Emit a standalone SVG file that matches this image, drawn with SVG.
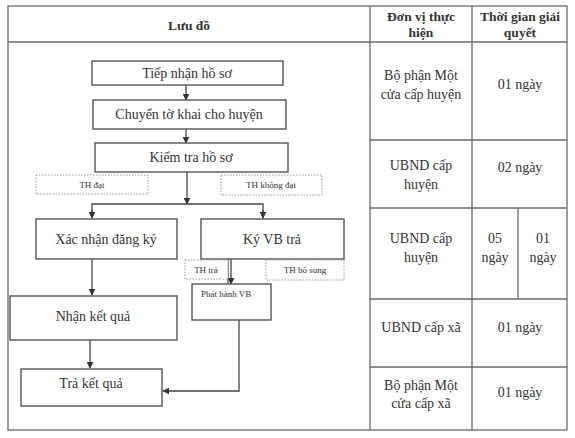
<svg xmlns="http://www.w3.org/2000/svg" width="575" height="438" viewBox="0 0 575 438">
<defs>
<style>
.grid{stroke:#6a6a6a;stroke-width:1.3;fill:none}
.box{fill:#fff;stroke:#555;stroke-width:1.4}
.dash{fill:#fff;stroke:#999;stroke-width:1;stroke-dasharray:1.5,1.5}
.con{stroke:#444;stroke-width:1.3;fill:none}
text{font-family:"Liberation Serif","Times New Roman",serif;fill:#333;text-anchor:middle}
.hd{font-weight:bold;font-size:13.5px}
.cell{font-size:14px}
.bt{font-size:14px}
.sm{font-size:9px}
</style>
<marker id="ah" viewBox="0 0 10 10" refX="9" refY="5" markerWidth="7" markerHeight="7" orient="auto" markerUnits="userSpaceOnUse">
<path d="M0,0 L10,5 L0,10 z" fill="#333"/>
</marker>
</defs>
<rect width="575" height="438" fill="#fff"/>
<g id="table">
<rect class="grid" x="8" y="6" width="559" height="424"/>
<line class="grid" x1="8" y1="42" x2="567" y2="42"/>
<line class="grid" x1="370" y1="6" x2="370" y2="430"/>
<line class="grid" x1="472" y1="6" x2="472" y2="430"/>
<line class="grid" x1="370" y1="140" x2="567" y2="140"/>
<line class="grid" x1="370" y1="208" x2="567" y2="208"/>
<line class="grid" x1="370" y1="299" x2="567" y2="299"/>
<line class="grid" x1="370" y1="367" x2="567" y2="367"/>
<line class="grid" x1="518" y1="208" x2="518" y2="299"/>
<text class="hd" x="189" y="30">Lưu đồ</text>
<text class="hd" x="421" y="21">Đơn vị thực</text>
<text class="hd" x="421" y="37">hiện</text>
<text class="hd" x="520" y="21">Thời gian giải</text>
<text class="hd" x="520" y="37">quyết</text>
<text class="cell" x="421" y="80">Bộ phận Một</text>
<text class="cell" x="421" y="99">cửa cấp huyện</text>
<text class="cell" x="520" y="89">01 ngày</text>
<text class="cell" x="421" y="170">UBND cấp</text>
<text class="cell" x="421" y="189">huyện</text>
<text class="cell" x="520" y="172">02 ngày</text>
<text class="cell" x="421" y="243">UBND cấp</text>
<text class="cell" x="421" y="262">huyện</text>
<text class="cell" x="495" y="243">05</text>
<text class="cell" x="495" y="262">ngày</text>
<text class="cell" x="543" y="243">01</text>
<text class="cell" x="543" y="262">ngày</text>
<text class="cell" x="421" y="332">UBND cấp xã</text>
<text class="cell" x="520" y="332">01 ngày</text>
<text class="cell" x="421" y="390">Bộ phận Một</text>
<text class="cell" x="421" y="408">cửa cấp xã</text>
<text class="cell" x="520" y="397">01 ngày</text>
</g>
<g id="connectors">
<line class="con" x1="186" y1="85" x2="186" y2="100" marker-end="url(#ah)"/>
<line class="con" x1="186" y1="129" x2="186" y2="143" marker-end="url(#ah)"/>
<line class="con" x1="187" y1="172" x2="187" y2="204" marker-end="url(#ah)"/>
<polyline class="con" points="92,217 92,204 263,204 263,217" fill="none"/>
<line class="con" x1="92" y1="210" x2="92" y2="218" marker-end="url(#ah)"/>
<line class="con" x1="263" y1="210" x2="263" y2="218" marker-end="url(#ah)"/>
<line class="con" x1="92" y1="259" x2="92" y2="295" marker-end="url(#ah)"/>
<line class="con" x1="90" y1="340" x2="90" y2="368" marker-end="url(#ah)"/>
<line class="con" x1="228" y1="259" x2="228" y2="283"/>
<line class="con" x1="231" y1="259" x2="231" y2="284" marker-end="url(#ah)"/>
<polyline class="con" points="239,320 239,391 163,391" marker-end="url(#ah)"/>
</g>
<g id="n1"><rect class="box" x="92" y="61" width="191" height="24"/><text class="bt" x="187" y="78">Tiếp nhận hồ sơ</text></g>
<g id="n2"><rect class="box" x="93" y="100" width="193" height="29"/><text class="bt" x="189" y="119">Chuyển tờ khai cho huyện</text></g>
<g id="n3"><rect class="box" x="95" y="143" width="193" height="29"/><text class="bt" x="191" y="162">Kiểm tra hồ sơ</text></g>
<g id="l1"><rect class="dash" x="36" y="175" width="112" height="19"/><text class="sm" x="92" y="188">TH đạt</text></g>
<g id="l2"><rect class="dash" x="221" y="175" width="101" height="20"/><text class="sm" x="271" y="188">TH không đạt</text></g>
<g id="n4"><rect class="box" x="36" y="219" width="141" height="40"/><text class="bt" x="106" y="244">Xác nhận đăng ký</text></g>
<g id="n5"><rect class="box" x="201" y="219" width="143" height="40"/><text class="bt" x="272" y="244">Ký VB trả</text></g>
<g id="l3"><rect class="dash" x="185" y="260" width="43" height="19"/><text class="sm" x="206" y="273">TH trả</text></g>
<g id="l4"><rect class="dash" x="266" y="260" width="78" height="20"/><text class="sm" x="305" y="273">TH bổ sung</text></g>
<g id="n6"><rect class="box" x="192" y="284" width="79" height="36"/><text class="sm" x="201" y="297" style="text-anchor:start">Phát hành VB</text></g>
<g id="n7"><rect class="box" x="10" y="296" width="167" height="44"/><text class="bt" x="93" y="321">Nhận kết quả</text></g>
<g id="n8"><rect class="box" x="21" y="369" width="141" height="37"/><text class="bt" x="91" y="388">Trả kết quả</text></g>
</svg>
